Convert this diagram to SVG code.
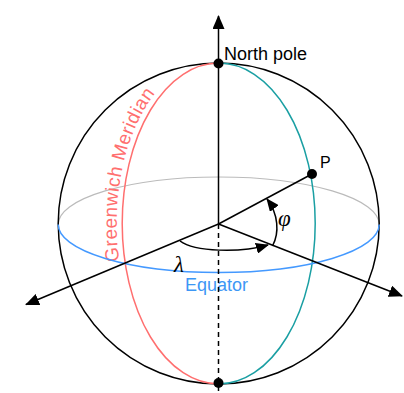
<svg xmlns="http://www.w3.org/2000/svg" width="404" height="393" viewBox="0 0 404 393">
<style>
.lbl{font-family:"Liberation Sans",Arial,sans-serif;font-size:18px}
.greek{font-family:"Liberation Serif","Times New Roman",serif;font-style:italic;font-size:23px}
.ax{stroke:#000;stroke-width:1.5;fill:none}
</style>
<defs>
<marker id="arr" markerUnits="userSpaceOnUse" markerWidth="14" markerHeight="12" viewBox="0 0 14 12" refX="13" refY="6" orient="auto">
<path d="M0,0 L14,6 L0,12 Z" fill="#000"/>
</marker>
<marker id="arrs" markerUnits="userSpaceOnUse" markerWidth="13" markerHeight="11" viewBox="0 0 13 11" refX="12" refY="5.5" orient="auto">
<path d="M0,0 L13,5.5 L0,11 Z" fill="#000"/>
</marker>
<path id="gmpath" d="M218.7,390 A102,166.5 0 0 1 218.7,57"/>
</defs>
<rect width="404" height="393" fill="#fff"/>
<g id="equator-back">
<path d="M58.2,224.5 A160.5,47.5 0 0 1 379.2,224.5" fill="none" stroke="#bbbbbb" stroke-width="1.2"/>
</g>
<g id="sphere">
<circle cx="218.7" cy="223.5" r="160.5" fill="none" stroke="#000" stroke-width="1.5"/>
</g>
<g id="greenwich-meridian">
<path d="M218.7,63 A96.5,160.5 0 0 0 218.7,384" fill="none" stroke="#ff6f6f" stroke-width="1.5"/>
<text class="lbl" fill="#ff6f6f" style="font-size:19px;letter-spacing:0.4px"><textPath href="#gmpath" startOffset="176">Greenwich Meridian</textPath></text>
</g>
<g id="meridian-p">
<path d="M218.7,63 A96.5,160.5 0 0 1 218.7,384" fill="none" stroke="#1a9fa3" stroke-width="1.5"/>
</g>
<g id="equator">
<path d="M58.2,224.5 A160.5,48 0 0 0 379.2,224.5" fill="none" stroke="#4499ff" stroke-width="1.5"/>
<text class="lbl" x="185" y="291" fill="#3d97f5">Equator</text>
</g>
<g id="connectors">
<line class="ax" x1="218.5" y1="224" x2="218.5" y2="16" marker-end="url(#arr)"/>
<line class="ax" x1="218.5" y1="224" x2="218.5" y2="393" stroke-dasharray="5,4"/>
<line class="ax" x1="218.5" y1="224" x2="26" y2="304.5" marker-end="url(#arr)"/>
<line class="ax" x1="218.5" y1="224" x2="402" y2="296" marker-end="url(#arr)"/>
<line class="ax" x1="218.5" y1="224" x2="312" y2="174"/>
<path class="ax" d="M180,241 C195,252 240,253 268,245" marker-end="url(#arrs)"/>
<path class="ax" d="M272.5,246 C279.5,233 278.5,214 267,199" marker-end="url(#arrs)"/>
</g>
<g id="north-pole">
<circle cx="218.5" cy="63.5" r="5" fill="#000"/>
<text class="lbl" x="224" y="59.5" fill="#000">North pole</text>
</g>
<g id="south-pole">
<circle cx="218.5" cy="383" r="5" fill="#000"/>
</g>
<g id="point-p">
<circle cx="312" cy="174" r="5" fill="#000"/>
<text class="lbl" x="320" y="168" fill="#000" style="font-size:16px">P</text>
</g>
<g id="angle-labels">
<text class="greek" x="278" y="226" fill="#000">φ</text>
<text class="greek" x="174" y="272" fill="#000">λ</text>
</g>
</svg>
